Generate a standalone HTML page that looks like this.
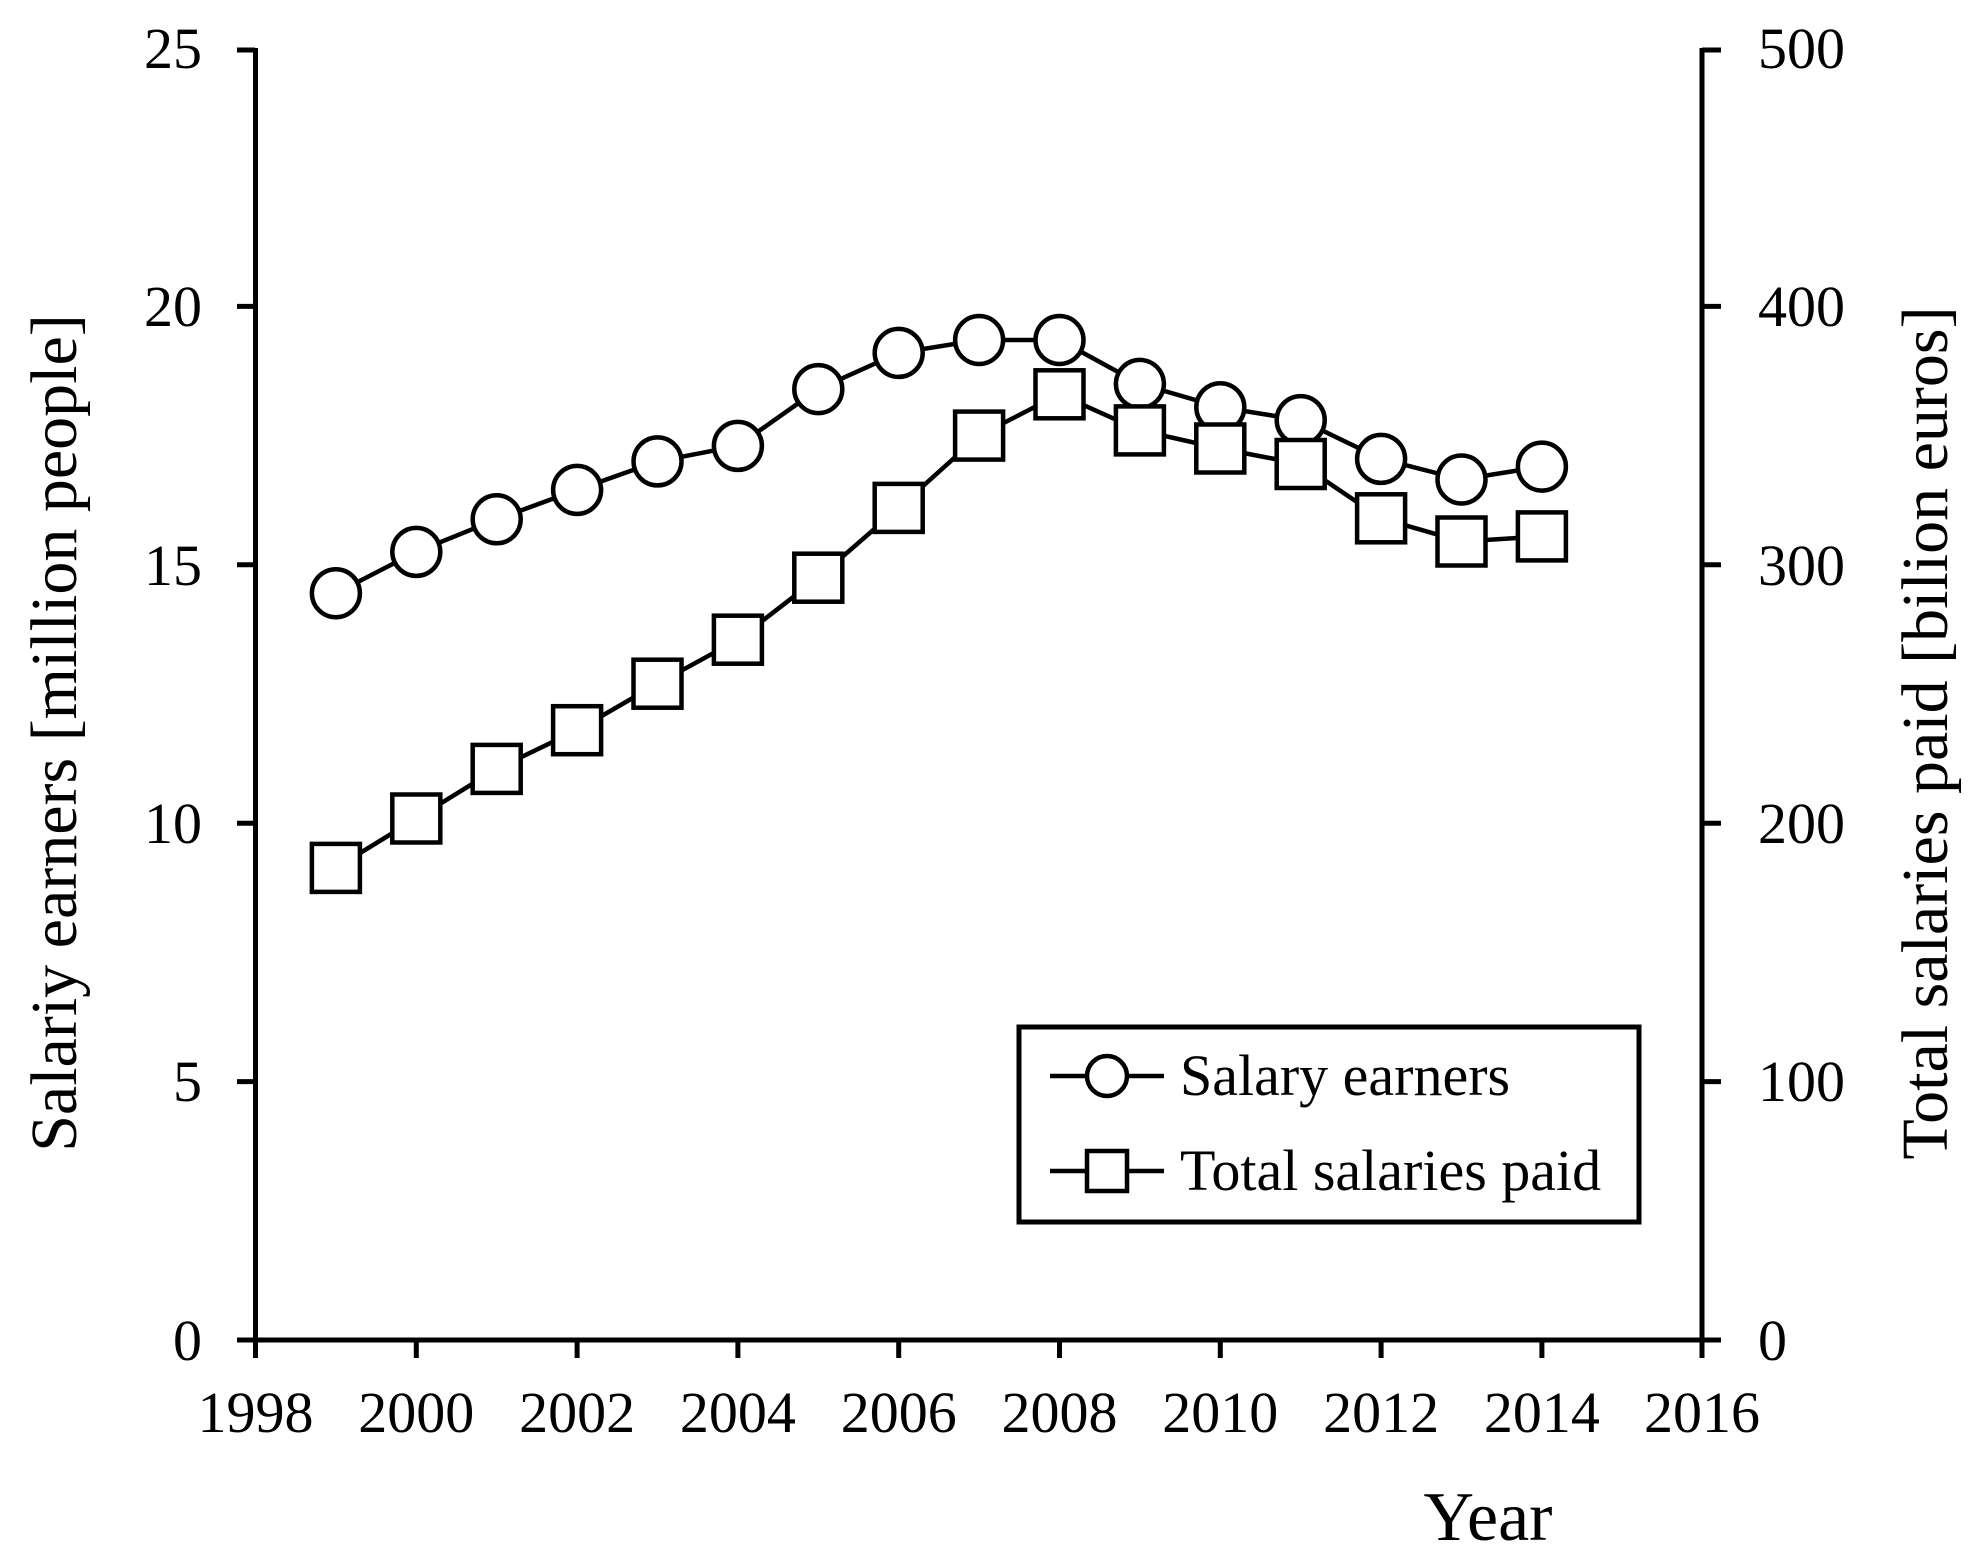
<!DOCTYPE html>
<html><head><meta charset="utf-8"><style>html,body{margin:0;padding:0;background:#fff}
svg text{font-family:"Liberation Serif","DejaVu Serif",serif;}
.rt{position:absolute;font-family:"Liberation Serif","DejaVu Serif",serif;font-size:66px;white-space:nowrap;line-height:1;width:1000px;text-align:center;color:#000}
</style></head>
<body>
<div style="position:relative;width:1983px;height:1566px">
<svg width="1983" height="1566" viewBox="0 0 1983 1566" xmlns="http://www.w3.org/2000/svg" fill="#000" style="position:absolute;left:0;top:0">
<rect width="1983" height="1566" fill="#fff"/>
<g stroke="#000" stroke-width="5" fill="none">
<line x1="255.5" y1="48" x2="255.5" y2="1342"/>
<line x1="1702" y1="48" x2="1702" y2="1342"/>
<line x1="253" y1="1340" x2="1704" y2="1340"/>
<line x1="237" y1="1340" x2="255" y2="1340"/><line x1="237" y1="1081.6" x2="255" y2="1081.6"/><line x1="237" y1="823.2" x2="255" y2="823.2"/><line x1="237" y1="564.8" x2="255" y2="564.8"/><line x1="237" y1="306.4" x2="255" y2="306.4"/><line x1="237" y1="50" x2="255" y2="50"/>
<line x1="1702" y1="1340" x2="1721" y2="1340"/><line x1="1702" y1="1081.6" x2="1721" y2="1081.6"/><line x1="1702" y1="823.2" x2="1721" y2="823.2"/><line x1="1702" y1="564.8" x2="1721" y2="564.8"/><line x1="1702" y1="306.4" x2="1721" y2="306.4"/><line x1="1702" y1="50" x2="1721" y2="50"/>
<line x1="255.5" y1="1340" x2="255.5" y2="1358"/><line x1="416.3" y1="1340" x2="416.3" y2="1358"/><line x1="577.1" y1="1340" x2="577.1" y2="1358"/><line x1="737.9" y1="1340" x2="737.9" y2="1358"/><line x1="898.7" y1="1340" x2="898.7" y2="1358"/><line x1="1059.5" y1="1340" x2="1059.5" y2="1358"/><line x1="1220.3" y1="1340" x2="1220.3" y2="1358"/><line x1="1381.1" y1="1340" x2="1381.1" y2="1358"/><line x1="1541.9" y1="1340" x2="1541.9" y2="1358"/><line x1="1702" y1="1340" x2="1702" y2="1358"/>
</g>
<g font-size="58" text-anchor="end">
<text x="202" y="1360">0</text><text x="202" y="1101">5</text><text x="202" y="843">10</text><text x="202" y="585">15</text><text x="202" y="326">20</text><text x="202" y="68">25</text>
</g>
<g font-size="58" text-anchor="start">
<text x="1758" y="1360">0</text><text x="1758" y="1101">100</text><text x="1758" y="843">200</text><text x="1758" y="585">300</text><text x="1758" y="326">400</text><text x="1758" y="68">500</text>
</g>
<g font-size="58" text-anchor="middle">
<text x="255.5" y="1432">1998</text><text x="416.3" y="1432">2000</text><text x="577.1" y="1432">2002</text><text x="737.9" y="1432">2004</text><text x="898.7" y="1432">2006</text><text x="1059.5" y="1432">2008</text><text x="1220.3" y="1432">2010</text><text x="1381.1" y="1432">2012</text><text x="1541.9" y="1432">2014</text><text x="1702" y="1432">2016</text>
</g>
<text x="1488" y="1540" font-size="70" text-anchor="middle">Year</text>
<g stroke="#000" stroke-width="4.5" fill="none">
<polyline points="335.9,593.2 416.3,551.9 496.7,519.3 577.1,489.9 657.5,461.4 737.9,445.9 818.3,389.1 898.7,352.9 979.1,340 1059.5,340 1139.9,383.9 1220.3,407.2 1300.7,420.1 1381.1,458.9 1461.5,479.5 1541.9,466.6"/>
<polyline points="335.9,867.9 416.3,818.5 496.7,768.9 577.1,730.2 657.5,683.7 737.9,639.7 818.3,577.7 898.7,507.9 979.1,435.6 1059.5,394.3 1139.9,430.4 1220.3,448.5 1300.7,464 1381.1,518.3 1461.5,541.5 1541.9,536.4"/>
</g>
<g stroke="#000" stroke-width="4.5" fill="#fff">
<circle cx="335.9" cy="593.2" r="24"/><circle cx="416.3" cy="551.9" r="24"/><circle cx="496.7" cy="519.3" r="24"/><circle cx="577.1" cy="489.9" r="24"/><circle cx="657.5" cy="461.4" r="24"/><circle cx="737.9" cy="445.9" r="24"/><circle cx="818.3" cy="389.1" r="24"/><circle cx="898.7" cy="352.9" r="24"/><circle cx="979.1" cy="340" r="24"/><circle cx="1059.5" cy="340" r="24"/><circle cx="1139.9" cy="383.9" r="24"/><circle cx="1220.3" cy="407.2" r="24"/><circle cx="1300.7" cy="420.1" r="24"/><circle cx="1381.1" cy="458.9" r="24"/><circle cx="1461.5" cy="479.5" r="24"/><circle cx="1541.9" cy="466.6" r="24"/>
<rect x="311.9" y="843.9" width="48" height="48"/><rect x="392.3" y="794.5" width="48" height="48"/><rect x="472.7" y="744.9" width="48" height="48"/><rect x="553.1" y="706.2" width="48" height="48"/><rect x="633.5" y="659.7" width="48" height="48"/><rect x="713.9" y="615.7" width="48" height="48"/><rect x="794.3" y="553.7" width="48" height="48"/><rect x="874.7" y="483.9" width="48" height="48"/><rect x="955.1" y="411.6" width="48" height="48"/><rect x="1035.5" y="370.3" width="48" height="48"/><rect x="1115.9" y="406.4" width="48" height="48"/><rect x="1196.3" y="424.5" width="48" height="48"/><rect x="1276.7" y="440" width="48" height="48"/><rect x="1357.1" y="494.3" width="48" height="48"/><rect x="1437.5" y="517.5" width="48" height="48"/><rect x="1517.9" y="512.4" width="48" height="48"/>
</g>
<rect x="1019" y="1027" width="620" height="195" fill="#fff" stroke="#000" stroke-width="5"/>
<g stroke="#000" stroke-width="4.5">
<line x1="1050" y1="1076" x2="1164" y2="1076"/>
<line x1="1050" y1="1171" x2="1164" y2="1171"/>
<circle cx="1107" cy="1076" r="20" fill="#fff"/>
<rect x="1087" y="1151" width="40" height="40" fill="#fff"/>
</g>
<g font-size="58">
<text x="1180" y="1095">Salary earners</text>
<text x="1180" y="1190">Total salaries paid</text>
</g>
</svg>
<div class="rt" style="left:-445px;top:700px;transform:rotate(-90deg)">Salariy earners [million people]</div>
<div class="rt" style="left:1426px;top:700px;transform:rotate(-90deg)">Total salaries paid [bilion euros]</div>
</div>
</body></html>
